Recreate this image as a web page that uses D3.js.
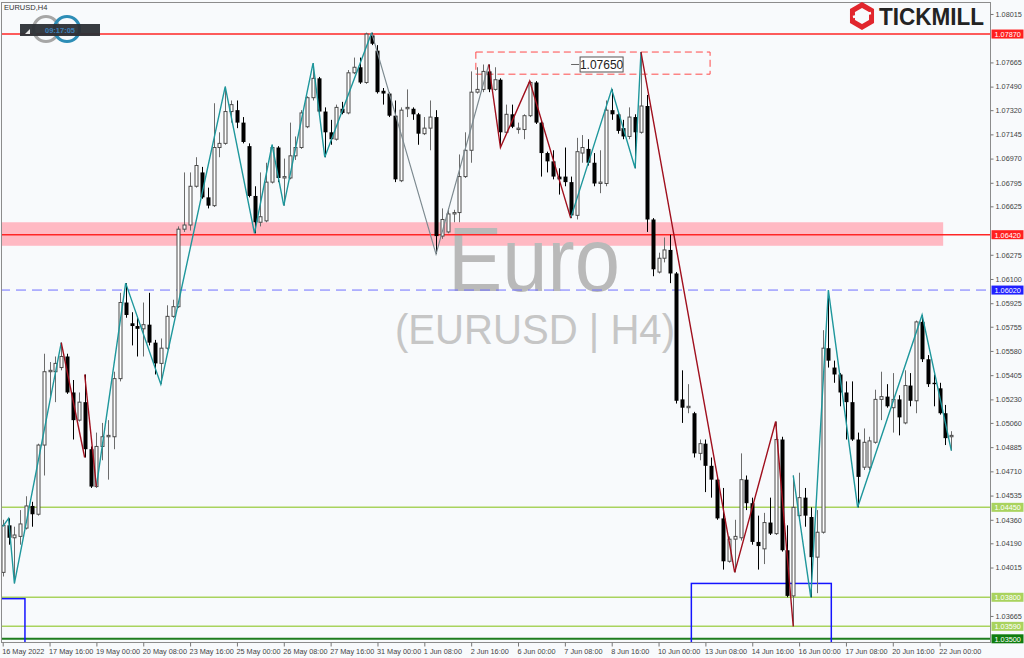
<!DOCTYPE html>
<html><head><meta charset="utf-8">
<script src="https://cdn.jsdelivr.net/npm/d3@7"></script>
<style>
html,body{margin:0;padding:0;background:#f8fafc;}
svg{display:block;font-family:"Liberation Sans",Arial,sans-serif;}
</style></head><body>
<svg id="c" width="1024" height="658"></svg>
<script>
const timeLabels = ["16 May 2022","17 May 16:00","19 May 00:00","20 May 08:00","23 May 16:00","25 May 00:00","26 May 08:00","27 May 16:00","31 May 00:00","1 Jun 08:00","2 Jun 16:00","6 Jun 00:00","7 Jun 08:00","8 Jun 16:00","10 Jun 00:00","13 Jun 08:00","14 Jun 16:00","16 Jun 00:00","17 Jun 08:00","20 Jun 16:00","22 Jun 00:00"];
const barsPerLabel = 8;

const open = [1.0398,1.0432,1.0423,1.0424,1.0430,1.0446,1.0440,1.0490,1.0543,1.0543,1.0546,1.0554,1.0528,1.0508,1.0521,1.0487,1.0460,1.0489,1.0496,1.0496,
1.0538,1.0593,1.0578,1.0576,1.0574,1.0577,1.0564,1.0549,1.0560,1.0583,1.0590,1.0646,1.0649,1.0677,1.0687,1.0669,1.0663,1.0705,1.0708,1.0731,
1.0732,1.0723,1.0706,1.0670,1.0651,1.0652,1.0680,1.0705,1.0683,1.0683,1.0699,1.0705,1.0720,1.0741,1.0755,1.0731,1.0716,1.0711,1.0733,1.0730,
1.0759,1.0763,1.0752,1.0786,1.0775,1.0746,1.0744,1.0728,1.0681,1.0733,1.0733,1.0729,1.0715,1.0719,1.0727,1.0641,1.0644,1.0657,1.0658,1.0684,
1.0703,1.0745,1.0747,1.0760,1.0747,1.0754,1.0716,1.0729,1.0718,1.0718,1.0728,1.0752,1.0723,1.0701,1.0695,1.0684,1.0684,1.0680,1.0656,1.0701,
1.0704,1.0694,1.0679,1.0679,1.0732,1.0729,1.0719,1.0713,1.0727,1.0716,1.0735,1.0653,1.0615,1.0625,1.0631,1.0614,1.0523,1.0517,1.0513,1.0484,
1.0491,1.0475,1.0465,1.0437,1.0406,1.0422,1.0423,1.0465,1.0448,1.0420,1.0415,1.0434,1.0426,1.0494,1.0414,1.0381,1.0439,1.0452,1.0438,1.0409,
1.0427,1.0560,1.0546,1.0541,1.0528,1.0521,1.0494,1.0474,1.0474,1.0492,1.0523,1.0525,1.0517,1.0523,1.0506,1.0533,1.0522,1.0579,1.0552,1.0535,
1.0531,1.0513,1.0496];
const high = [1.0436,1.0437,1.0431,1.0443,1.0453,1.0449,1.0491,1.0556,1.0550,1.0554,1.0564,1.0556,1.0537,1.0528,1.0541,1.0489,1.0499,1.0506,1.0508,1.0543,
1.0600,1.0607,1.0586,1.0583,1.0593,1.0600,1.0566,1.0567,1.0591,1.0595,1.0648,1.0687,1.0687,1.0698,1.0691,1.0676,1.0737,1.0716,1.0749,1.0739,
1.0739,1.0727,1.0708,1.0677,1.0687,1.0694,1.0707,1.0706,1.0697,1.0723,1.0713,1.0732,1.0742,1.0766,1.0756,1.0734,1.0725,1.0736,1.0738,1.0761,
1.0770,1.0770,1.0788,1.0788,1.0779,1.0748,1.0745,1.0739,1.0734,1.0747,1.0734,1.0730,1.0727,1.0739,1.0732,1.0661,1.0661,1.0660,1.0700,1.0716,
1.0760,1.0763,1.0765,1.0765,1.0763,1.0755,1.0736,1.0736,1.0723,1.0729,1.0753,1.0753,1.0725,1.0702,1.0703,1.0690,1.0705,1.0684,1.0712,1.0714,
1.0711,1.0701,1.0703,1.0739,1.0747,1.0730,1.0725,1.0734,1.0729,1.0774,1.0743,1.0654,1.0629,1.0640,1.0642,1.0615,1.0544,1.0534,1.0514,1.0494,
1.0494,1.0481,1.0467,1.0459,1.0424,1.0436,1.0484,1.0468,1.0452,1.0439,1.0441,1.0452,1.0507,1.0496,1.0432,1.0468,1.0470,1.0459,1.0445,1.0443,
1.0573,1.0602,1.0551,1.0542,1.0536,1.0536,1.0499,1.0502,1.0496,1.0530,1.0543,1.0534,1.0542,1.0526,1.0544,1.0542,1.0580,1.0584,1.0555,1.0541,
1.0535,1.0519,1.0500];
const low = [1.0395,1.0418,1.0390,1.0418,1.0429,1.0431,1.0439,1.0468,1.0525,1.0521,1.0544,1.0527,1.0494,1.0507,1.0481,1.0459,1.0459,1.0479,1.0465,1.0487,
1.0536,1.0582,1.0562,1.0554,1.0554,1.0562,1.0541,1.0534,1.0559,1.0582,1.0589,1.0644,1.0645,1.0676,1.0668,1.0661,1.0662,1.0698,1.0707,1.0723,
1.0719,1.0708,1.0669,1.0643,1.0648,1.0651,1.0679,1.0680,1.0663,1.0682,1.0696,1.0704,1.0719,1.0739,1.0730,1.0698,1.0707,1.0710,1.0729,1.0729,
1.0758,1.0751,1.0751,1.0779,1.0744,1.0736,1.0727,1.0680,1.0680,1.0727,1.0725,1.0707,1.0714,1.0703,1.0628,1.0639,1.0643,1.0651,1.0651,1.0683,
1.0694,1.0744,1.0745,1.0745,1.0746,1.0705,1.0715,1.0719,1.0715,1.0711,1.0727,1.0722,1.0684,1.0687,1.0682,1.0671,1.0677,1.0654,1.0653,1.0694,
1.0692,1.0677,1.0672,1.0677,1.0725,1.0715,1.0711,1.0711,1.0690,1.0715,1.0644,1.0612,1.0614,1.0622,1.0607,1.0520,1.0506,1.0513,1.0481,1.0479,
1.0456,1.0452,1.0436,1.0400,1.0405,1.0398,1.0421,1.0443,1.0418,1.0400,1.0404,1.0425,1.0425,1.0413,1.0380,1.0359,1.0437,1.0431,1.0380,1.0383,
1.0426,1.0546,1.0535,1.0518,1.0494,1.0493,1.0445,1.0472,1.0472,1.0491,1.0508,1.0517,1.0499,1.0497,1.0505,1.0518,1.0513,1.0550,1.0532,1.0518,
1.0512,1.0490,1.0486];
const close = [1.0432,1.0423,1.0425,1.0433,1.0446,1.0440,1.0490,1.0543,1.0544,1.0549,1.0554,1.0528,1.0508,1.0521,1.0487,1.0460,1.0489,1.0496,1.0497,1.0538,
1.0593,1.0584,1.0576,1.0574,1.0577,1.0564,1.0549,1.0560,1.0583,1.0590,1.0646,1.0649,1.0677,1.0692,1.0669,1.0663,1.0705,1.0708,1.0731,1.0736,
1.0723,1.0709,1.0670,1.0651,1.0655,1.0680,1.0705,1.0683,1.0684,1.0699,1.0705,1.0730,1.0741,1.0755,1.0731,1.0716,1.0711,1.0734,1.0730,1.0759,
1.0763,1.0752,1.0787,1.0780,1.0745,1.0744,1.0728,1.0682,1.0732,1.0734,1.0729,1.0715,1.0719,1.0727,1.0641,1.0653,1.0657,1.0658,1.0684,1.0703,
1.0745,1.0747,1.0760,1.0747,1.0754,1.0716,1.0729,1.0720,1.0719,1.0728,1.0752,1.0723,1.0701,1.0695,1.0684,1.0682,1.0680,1.0656,1.0702,1.0705,
1.0694,1.0679,1.0680,1.0732,1.0729,1.0717,1.0713,1.0727,1.0716,1.0735,1.0653,1.0617,1.0625,1.0631,1.0614,1.0522,1.0517,1.0518,1.0484,1.0491,
1.0475,1.0465,1.0437,1.0406,1.0422,1.0424,1.0465,1.0448,1.0420,1.0417,1.0434,1.0426,1.0494,1.0414,1.0381,1.0445,1.0452,1.0439,1.0409,1.0427,
1.0560,1.0551,1.0541,1.0528,1.0521,1.0494,1.0467,1.0492,1.0493,1.0523,1.0525,1.0518,1.0523,1.0510,1.0533,1.0522,1.0579,1.0552,1.0534,1.0534,
1.0513,1.0495,1.0497];

// tick values visible on the price scale (those hidden under level tags are left out)
const priceTicks = [1.08015,1.07665,1.07490,1.07320,1.07145,1.06970,1.06795,1.06625,1.06275,1.06100,1.05925,1.05755,1.05580,1.05405,1.05230,1.05060,1.04885,1.04710,1.04535,1.04360,1.04190,1.04015,1.03665];

const levelValues = [1.07870,1.06420,1.06020,1.04450,1.03800,1.03590,1.03500];
const levelLabels = ["1.07870","1.06420","1.06020","1.04450","1.03800","1.03590","1.03500"];
const zoneRange = [1.0634,1.0651];
const zoneEndBar = 160.6;
const markRect = {bars:[80.8,120.8], prices:[1.0758,1.0774]};
const markLabel = {bar:98.6, price:1.07650, text:"1.07650"};
const boxRects = [{bars:[-0.4,3.8], top:1.0379},{bars:[117.6,141.5], top:1.0390}];

const zigTeal = [
 [[0,1.0431],[1,1.0437],[2,1.0390],[10,1.0564]],
 [[16,1.0460],[21,1.0607],[27,1.0534],[38,1.0749],[43,1.0643],[46,1.0707],[48,1.0663],[53,1.0766],[55,1.0698],[63,1.0788]],
 [[97,1.0654],[104,1.0747],[108,1.0690],[109,1.0774]],
 [[135,1.0468],[138,1.0380],[141,1.0602],[146,1.0445],[157,1.0584],[162,1.0486]]
];
const zigRed = [
 [[10,1.0564],[14,1.0481]],
 [[14,1.0541],[16,1.0460]],
 [[83,1.0765],[85,1.0705],[90,1.0753],[97,1.0654]],
 [[109,1.0774],[125,1.0398],[132,1.0507],[135,1.0359]]
];
const zigGray = [
 [[63,1.0788],[74,1.0628],[83,1.0765]]
];

const svg = d3.select("#c");
const W = 1024, H = 658;
const plotL = 1.5, plotT = 2.5, plotR = 990.5, plotB = 642.5;

const x = d3.scaleLinear().domain([0,168.6]).range([2.7,990]);
const y = d3.scaleLinear().domain([1.03500,1.08116]).range([638.8,0]);

svg.append("rect").attr("width",W).attr("height",H).attr("fill","#f8fafc");

svg.append("clipPath").attr("id","clip").append("rect")
  .attr("x",plotL).attr("y",plotT).attr("width",plotR-plotL).attr("height",plotB-plotT);
const g = svg.append("g").attr("clip-path","url(#clip)");

// zone
g.append("rect").attr("x",0).attr("y",y(zoneRange[1]))
 .attr("width",x(zoneEndBar)).attr("height",y(zoneRange[0])-y(zoneRange[1]))
 .attr("fill","#ffb9c3");

// watermark
g.append("text").attr("x",448).attr("y",291).attr("font-size",90)
 .attr("textLength",172).attr("lengthAdjust","spacingAndGlyphs")
 .attr("fill","#b9b9b9").text("Euro");
g.append("text").attr("x",395).attr("y",344).attr("font-size",43)
 .attr("textLength",280).attr("lengthAdjust","spacingAndGlyphs")
 .attr("fill","#c6c6c6").text("(EURUSD | H4)");

// level lines
const levelStyle = [
 {c:"#ff2626",w:1.5,d:null,bg:"#ff1f1f"},
 {c:"#ff2626",w:1.5,d:null,bg:"#ff1f1f"},
 {c:"#6f6fff",w:1,d:"10,6",bg:"#1f1fff"},
 {c:"#a9d35e",w:1.5,d:null,bg:"#a9d35e"},
 {c:"#a9d35e",w:1.5,d:null,bg:"#a9d35e"},
 {c:"#a9d35e",w:1.5,d:null,bg:"#a9d35e"},
 {c:"#1e7d1e",w:2,d:null,bg:"#0f7d0f"}
];
levelValues.forEach((v,i)=>{
  const s = levelStyle[i];
  g.append("line").attr("x1",0).attr("x2",plotR).attr("y1",y(v)).attr("y2",y(v))
   .attr("stroke",s.c).attr("stroke-width",s.w).attr("stroke-dasharray",s.d);
});

// blue boxes
boxRects.forEach(b=>{
  g.append("rect").attr("x",x(b.bars[0])).attr("y",y(b.top))
   .attr("width",x(b.bars[1])-x(b.bars[0])).attr("height",700)
   .attr("fill","none").attr("stroke","#1414ff").attr("stroke-width",1.5);
});

// red dashed rectangle
g.append("rect").attr("x",x(markRect.bars[0])).attr("y",y(markRect.prices[1]))
 .attr("width",x(markRect.bars[1])-x(markRect.bars[0]))
 .attr("height",y(markRect.prices[0])-y(markRect.prices[1]))
 .attr("fill","none").attr("stroke","#ff4a4a").attr("stroke-width",1).attr("stroke-dasharray","7,4");

// candles
const cg = g.append("g");
open.forEach((o,i)=>{
  const cx = Math.round(x(i))+0.5;
  const c = close[i], hi = high[i], lo = low[i];
  const bull = c >= o;
  cg.append("line").attr("x1",cx).attr("x2",cx).attr("y1",y(hi)).attr("y2",y(lo))
    .attr("stroke", bull ? "#6b6b6b" : "#000").attr("stroke-width",1);
  const top = y(Math.max(o,c)), bot = y(Math.min(o,c));
  if (bot - top < 1.2) {
    cg.append("line").attr("x1",cx-2).attr("x2",cx+2).attr("y1",Math.round(top)+0.5).attr("y2",Math.round(top)+0.5)
      .attr("stroke", bull ? "#555" : "#000").attr("stroke-width",1.2);
  } else if (bull) {
    cg.append("rect").attr("x",cx-1.5).attr("y",top).attr("width",3).attr("height",bot-top)
      .attr("fill","#fff").attr("stroke","#4a4a4a").attr("stroke-width",1);
  } else {
    cg.append("rect").attr("x",cx-2).attr("y",top).attr("width",4).attr("height",bot-top)
      .attr("fill","#000");
  }
});

// zigzags
const zl = d3.line().x(d=>x(d[0])).y(d=>y(d[1]));
zigGray.forEach(s=>g.append("path").attr("d",zl(s)).attr("fill","none").attr("stroke","#7d8a90").attr("stroke-width",1.2));
zigTeal.forEach(s=>g.append("path").attr("d",zl(s)).attr("fill","none").attr("stroke","#1e979c").attr("stroke-width",1.4));
zigRed.forEach(s=>g.append("path").attr("d",zl(s)).attr("fill","none").attr("stroke","#a0101e").attr("stroke-width",1.4));

// 1.07650 label
const lx = x(markLabel.bar), ly = y(markLabel.price);
g.append("line").attr("x1",lx-9).attr("x2",lx-1).attr("y1",ly).attr("y2",ly).attr("stroke","#666");
g.append("rect").attr("x",lx).attr("y",ly-7.5).attr("width",43).attr("height",15)
 .attr("fill","#fff").attr("stroke","#555").attr("stroke-width",1);
g.append("text").attr("x",lx+21.5).attr("y",ly+4.5).attr("text-anchor","middle")
 .attr("font-size",12).attr("fill","#222").text(markLabel.text);

// frame
svg.append("rect").attr("x",plotL).attr("y",plotT).attr("width",plotR-plotL).attr("height",plotB-plotT)
 .attr("fill","none").attr("stroke","#8c8c8c").attr("stroke-width",1);

// right axis
const yAxis = d3.axisRight(y).tickValues(priceTicks).tickSize(3).tickPadding(2)
  .tickFormat(d=>d.toFixed(5));
const ya = svg.append("g").attr("transform",`translate(${plotR},0)`).call(yAxis);
ya.select(".domain").remove();
ya.selectAll("line").attr("stroke","#777");
ya.selectAll("text").attr("font-size",7.3).attr("fill","#444").attr("font-family","Liberation Sans, Arial, sans-serif");

// bottom axis
const tickBars = timeLabels.map((_,i)=>i*barsPerLabel);
const xAxis = d3.axisBottom(x).tickValues(tickBars).tickSize(4).tickPadding(2)
  .tickFormat((d,i)=>timeLabels[i]);
const xa = svg.append("g").attr("transform",`translate(0,${plotB})`).call(xAxis);
xa.select(".domain").remove();
xa.selectAll("line").attr("stroke","#777");
xa.selectAll("text").attr("font-size",7.3).attr("fill","#444").attr("text-anchor","start").attr("dx",-1)
  .attr("font-family","Liberation Sans, Arial, sans-serif");

// level price labels
levelValues.forEach((v,i)=>{
  const s = levelStyle[i];
  const yy = y(v);
  svg.append("rect").attr("x",plotR+1).attr("y",yy-4.5).attr("width",32).attr("height",9).attr("fill",s.bg);
  svg.append("text").attr("x",plotR+4).attr("y",yy+3).attr("font-size",7.3).attr("fill","#fff").text(levelLabels[i]);
});

// top-left title
svg.append("text").attr("x",4).attr("y",10).attr("font-size",7.5).attr("fill","#333").text("EURUSD,H4");

// ring logo + clock
svg.append("circle").attr("cx",46).attr("cy",29).attr("r",12.5).attr("fill","none").attr("stroke","#a6a6a6").attr("stroke-width",3.2);
svg.append("circle").attr("cx",67).attr("cy",29).attr("r",12.5).attr("fill","none").attr("stroke","#2d8db6").attr("stroke-width",3.2);
svg.append("rect").attr("x",20).attr("y",24).attr("width",80).attr("height",12).attr("fill","#2c3036").attr("opacity",0.95);
svg.append("path").attr("d","M25,34 L30,34 L30,29 Z").attr("fill","#e8e8e8");
svg.append("text").attr("x",60).attr("y",32.8).attr("text-anchor","middle").attr("font-size",7.5)
 .attr("font-weight","bold").attr("fill","#3b80ba").text("09:17:05");

// TICKMILL logo
const hx = 862, hy = 16, hr = 11;
const hex = d3.range(6).map(k=>{const a=Math.PI/180*(60*k-90);return [hx+hr*Math.cos(a),hy+hr*Math.sin(a)];});
svg.append("path").attr("d","M"+hex.map(p=>p.join(",")).join("L")+"Z")
 .attr("fill","none").attr("stroke","#e1262d").attr("stroke-width",5).attr("stroke-linejoin","miter");
svg.append("path").attr("d",`M${hx-9},${hy+1} L${hx+9},${hy-3}`).attr("stroke","#f8fafc").attr("stroke-width",2.5);
svg.append("text").attr("x",879).attr("y",25).attr("font-size",23).attr("font-weight","bold")
 .attr("textLength",105).attr("lengthAdjust","spacingAndGlyphs").attr("fill","#232323").text("TICKMILL");
</script>
</body></html>
